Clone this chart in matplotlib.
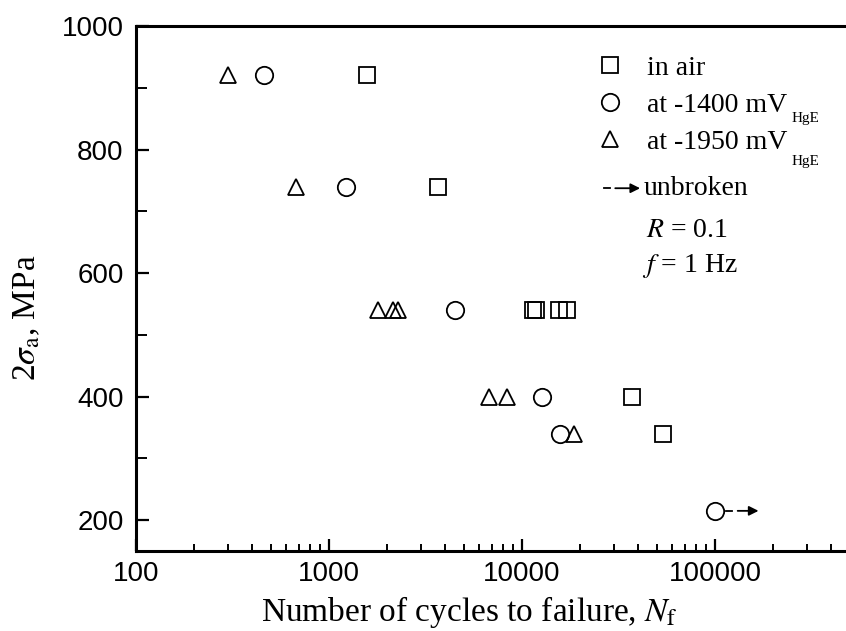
import matplotlib
matplotlib.use("Agg")
import matplotlib.pyplot as plt
from matplotlib.lines import Line2D
from matplotlib.ticker import LogLocator, FixedLocator, NullFormatter

# fatigue data: cycles to failure vs stress range
air_N = [1570, 3670, 11450, 11750, 15600, 17200, 37000, 54000]
air_S = [920, 740, 540, 540, 540, 540, 400, 340]

mv1400_N = [460, 1220, 4500, 12700, 15700]
mv1400_S = [920, 740, 540, 400, 340]

mv1950_N = [300, 675, 1800, 2150, 2280, 6750, 8350, 18600]
mv1950_S = [920, 740, 540, 540, 540, 400, 400, 340]

unbroken_N = [100000]
unbroken_S = [215]

x_ticks = [100, 1000, 10000, 100000]
x_tick_labels = ["100", "1000", "10000", "100000"]
y_ticks = [200, 400, 600, 800, 1000]

plt.rcParams['font.family'] = ['Liberation Serif', 'DejaVu Serif']
plt.rcParams['mathtext.fontset'] = 'stix'

fig = plt.figure(figsize=(8.46, 6.31), dpi=100)
ax = fig.add_axes([136 / 846, 80 / 631, 710 / 846, 525 / 631])

mk = dict(linestyle='none', mfc='none', mec='black', mew=1.3, color='black')
ax.plot(air_N, air_S, marker='s', markersize=11, **mk)
ax.plot(mv1400_N, mv1400_S, marker='o', markersize=12.5, **mk)
ax.plot(mv1950_N, mv1950_S, marker='^', markersize=11, **mk)
ax.plot(unbroken_N, unbroken_S, marker='o', markersize=12.5, **mk)

# run-out arrow
for n, s in zip(unbroken_N, unbroken_S):
    ax.plot([n * 1.14, n * 1.23], [s, s], color='black', lw=1.3)
    ax.annotate('', xy=(n * 1.68, s), xytext=(n * 1.31, s),
                arrowprops=dict(arrowstyle='-|>', color='black', lw=1.3,
                                mutation_scale=14, shrinkA=0, shrinkB=0))

ax.set_xscale('log')
ax.set_xlim(100, 477000)
ax.set_ylim(150, 1000)

ax.xaxis.set_major_locator(FixedLocator(x_ticks))
ax.set_xticklabels(x_tick_labels)
ax.xaxis.set_minor_locator(LogLocator(base=10, subs=range(2, 10)))
ax.xaxis.set_minor_formatter(NullFormatter())
ax.set_yticks(y_ticks)
ax.yaxis.set_minor_locator(FixedLocator([300, 500, 700, 900]))

for lab in ax.get_xticklabels() + ax.get_yticklabels():
    lab.set_family(['Liberation Sans', 'DejaVu Sans'])
    lab.set_fontsize(20)

ax.tick_params(which='major', direction='in', length=9, width=1.6)
ax.tick_params(which='minor', direction='in', length=5, width=1.4)
ax.tick_params(axis='y', which='minor', length=8)
ax.tick_params(axis='x', pad=7)
ax.tick_params(axis='y', pad=9)

ax.spines['right'].set_visible(False)
for side in ['left', 'bottom', 'top']:
    ax.spines[side].set_linewidth(2.2)

ax.set_xlabel(r'Number of cycles to failure, $N_\mathrm{f}$', fontsize=24, va='baseline')
ax.xaxis.set_label_coords(0.47, -0.134)
ax.set_ylabel(r'2$\sigma_\mathrm{a}$, MPa', fontsize=24)
ax.yaxis.set_label_coords(-0.132, 0.444)

handles = [
    Line2D([], [], marker='s', markersize=11, **mk),
    Line2D([], [], marker='o', markersize=12.5, **mk),
    Line2D([], [], marker='^', markersize=11, **mk),
]
labels = ['in air', 'at -1400 mV', 'at -1950 mV']
ax.legend(handles, labels, loc='upper left', bbox_to_anchor=(0.648, 0.944),
          frameon=False, fontsize=20, handlelength=1.0, handletextpad=0.85,
          labelspacing=0.42, borderpad=0, borderaxespad=0)
# reference electrode subscripts of the legend labels
for ypos in (0.824, 0.742):
    ax.text(0.923, ypos, 'HgE', transform=ax.transAxes, fontsize=11, va='center')

# legend entry for run-out specimens and test conditions
ax.plot([0.659, 0.668], [0.691, 0.691], color='black', lw=1.3, transform=ax.transAxes)
ax.annotate('', xy=(0.710, 0.691), xytext=(0.675, 0.691), xycoords='axes fraction',
            arrowprops=dict(arrowstyle='-|>', color='black', lw=1.3,
                            mutation_scale=14, shrinkA=0, shrinkB=0))
ax.text(0.715, 0.691, 'unbroken', transform=ax.transAxes, fontsize=20, va='center')
ax.text(0.719, 0.611, r'$R$ = 0.1', transform=ax.transAxes, fontsize=20, va='center')
ax.text(0.713, 0.543, r'$f$ = 1 Hz', transform=ax.transAxes, fontsize=20, va='center')

fig.savefig('out.png', dpi=100)
